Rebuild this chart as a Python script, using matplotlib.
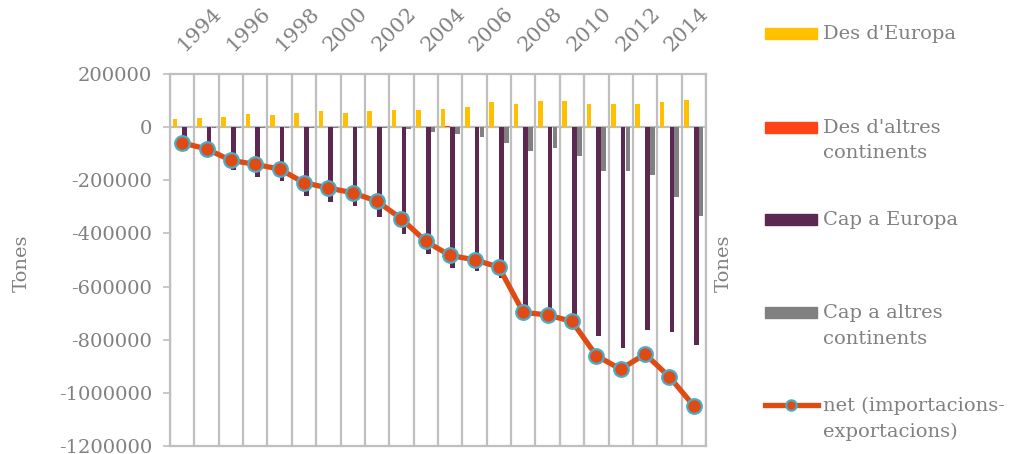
import numpy as np
import matplotlib
matplotlib.use("Agg")
import matplotlib.pyplot as plt
from matplotlib.patches import Rectangle
from matplotlib.lines import Line2D
from matplotlib.transforms import ScaledTranslation

plt.rcParams['font.family'] = ['DejaVu Serif']

years = list(range(1993, 2015))
# tones
des_europa = [30000, 35000, 37000, 48000, 45000, 53000, 61000, 55000, 61000, 65000, 63000,
              70000, 77000, 94000, 88000, 99000, 97000, 86000, 86000, 88000, 94000, 104000]
des_altres = [500, 500, 500, 500, 600, 600, 700, 800, 800, 1000, 1500,
              3000, 1500, 1200, 1000, 1000, 1000, 900, 900, 1000, 1000, 1000]
cap_europa = [-90000, -112000, -160000, -187000, -203000, -258000, -282000, -297000, -337000, -401000, -477000,
              -531000, -543000, -567000, -694000, -727000, -720000, -785000, -833000, -762000, -772000, -819000]
cap_altres = [-1000, -1500, -1500, -2000, -2000, -2000, -3000, -3000, -4000, -6000, -18000,
              -27000, -38000, -58000, -91000, -79000, -108000, -164000, -164000, -181000, -264000, -335000]
net = [-59000, -82000, -125000, -140000, -158000, -209000, -229000, -247000, -279000, -345000, -430000,
       -483000, -499000, -527000, -697000, -707000, -731000, -860000, -911000, -854000, -940000, -1049000]

c_yellow = '#FFC000'
c_red = '#FF4314'
c_purple = '#5C2751'
c_gray = '#808080'
c_line = '#DF4A15'
c_edge = '#4BACC6'
txt = '#808080'
grid = '#BFBFBF'

W, H = 1015, 454
fig = plt.figure(figsize=(W / 100, H / 100), dpi=100)
ax = fig.add_axes([170 / W, 1 - 446 / H, (706 - 170) / W, (446 - 74) / H])

x = np.arange(len(years))
bw = 0.19
ax.bar(x - 0.3, des_europa, bw, color=c_yellow, zorder=3)
ax.bar(x - 0.1, des_altres, bw, color=c_red, zorder=3)
ax.bar(x + 0.1, cap_europa, bw, color=c_purple, zorder=3)
ax.bar(x + 0.3, cap_altres, bw, color=c_gray, zorder=3)
ax.plot(x, net, color=c_line, lw=3.8, marker='o', ms=10.5, mfc=c_line,
        mec=c_edge, mew=1.6, zorder=5)

ax.set_xlim(-0.5, len(years) - 0.5)
ax.set_ylim(-1200000, 200000)
ax.set_yticks(np.arange(-1200000, 200001, 200000))
ax.yaxis.set_major_formatter(matplotlib.ticker.FuncFormatter(lambda v, p: '%d' % v))
ax.tick_params(axis='y', colors=grid, labelcolor=txt, labelsize=14, length=5, width=1.2, pad=8)

# vertical gridlines at category boundaries
ax.set_xticks(np.arange(-0.5, len(years), 1), minor=True)
ax.grid(which='minor', axis='x', color=grid, lw=1.6, zorder=0)
ax.tick_params(axis='x', which='minor', length=0)
ax.axhline(0, color=grid, lw=1.6, zorder=2)

ax.xaxis.set_ticks_position('top')
lab_idx = x[1::2]
ax.set_xticks(lab_idx)
ax.set_xticklabels([str(years[i]) for i in lab_idx], rotation=45, ha='center',
                   fontsize=15, color=txt)
ax.tick_params(axis='x', which='major', length=0, pad=14)
off = ScaledTranslation(-7 / 100, 0, fig.dpi_scale_trans)
for lab in ax.get_xticklabels():
    lab.set_transform(lab.get_transform() + off)

for s in ax.spines.values():
    s.set_color(grid)
    s.set_linewidth(1.6)

fig.text(22 / W, 1 - 263 / H, 'Tones', rotation=90, ha='center', va='center',
         fontsize=14, color=txt)
fig.text(724 / W, 1 - 263 / H, 'Tones', rotation=90, ha='center', va='center',
         fontsize=14, color=txt)

# legend
entries = [
    ('bar', c_yellow, ["Des d'Europa"], 33),
    ('bar', c_red, ["Des d'altres", "continents"], 127),
    ('bar', c_purple, ["Cap a Europa"], 219),
    ('bar', c_gray, ["Cap a altres", "continents"], 312),
    ('line', c_line, ["net (importacions-", "exportacions)"], 405),
]
for kind, col, lines, yc in entries:
    if kind == 'bar':
        fig.add_artist(Rectangle((765 / W, 1 - (yc + 5.5) / H), 52 / W, 11 / H,
                                 transform=fig.transFigure, color=col))
    else:
        fig.add_artist(Line2D([765 / W, 818 / W], [1 - yc / H, 1 - yc / H],
                              transform=fig.transFigure, color=col, lw=3.8))
        fig.add_artist(Line2D([791 / W], [1 - yc / H], transform=fig.transFigure,
                              marker='o', ms=7.5, mfc=col, mec=c_edge, mew=1.5))
    for k, t in enumerate(lines):
        fig.text(823 / W, 1 - (yc + 1 + 25.5 * k) / H, t, ha='left', va='center',
                 fontsize=14, color=txt)

fig.savefig('out.png', dpi=100)
